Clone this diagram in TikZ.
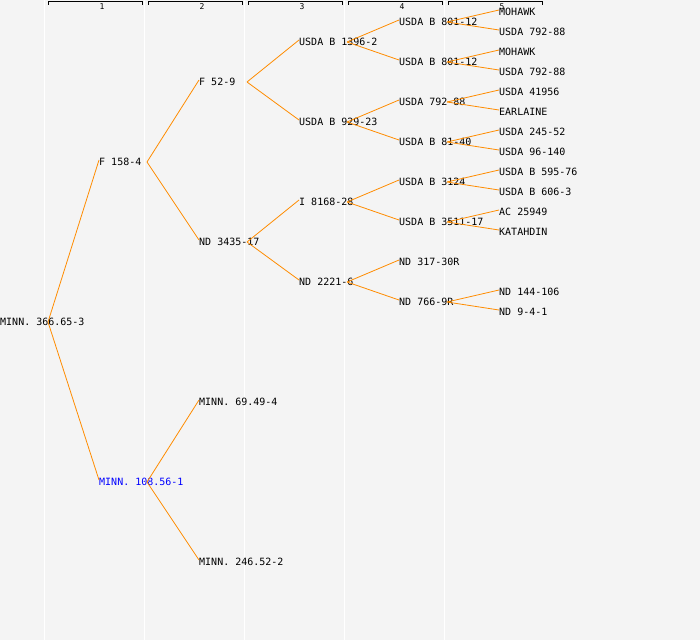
\documentclass[tikz,border=0pt]{standalone}
\usepackage{fontspec}
\setmonofont{DejaVu Sans Mono}
\definecolor{linkorange}{RGB}{255,140,0}
\definecolor{panelgray}{RGB}{244,244,244}

\begin{document}
\begin{tikzpicture}[x=1pt, y=-1pt,
    main/.style = {anchor=west, inner sep=0pt, text height=7.3pt, text depth=0pt, font=\fontsize{10}{12}\selectfont\ttfamily},
    link/.style = {linkorange, line width=0.8pt},
    colnum/.style = {inner sep=0pt, font=\fontsize{8}{9}\selectfont\ttfamily}]
    \useasboundingbox (0,0) rectangle (700,640);
    \fill[panelgray] (0,0) rectangle (700,640);
    \foreach \x in {44.5,144.5,244.5,344.5,444.5}
        \draw[white, line width=1.2pt] (\x,0) -- (\x,640);
    \foreach \x in {48,148,248,348,448}
        \draw[line width=0.8pt] (\x,4.5) -- (\x,1.5) -- (\x+94.5,1.5) -- (\x+94.5,4.5);
    \foreach \k in {1,...,5}
        \node[colnum] (num\k) at (100*\k+2,6.5) {\k};

    % generation 0 and 1
    \node[main] (r) at (0,322) {MINN. 366.65-3};
    \node[main] (f158) at (99,162) {F 158-4};
    \node[main, text=blue] (m108) at (99,482) {MINN. 108.56-1};

    % generation 2
    \node[main] (f52) at (199,82) {F 52-9};
    \node[main] (nd3435) at (199,242) {ND 3435-17};
    \node[main] (m69) at (199,402) {MINN. 69.49-4};
    \node[main] (m246) at (199,562) {MINN. 246.52-2};

    % generation 3
    \node[main] (u1396) at (299,42) {USDA B 1396-2};
    \node[main] (u929) at (299,122) {USDA B 929-23};
    \node[main] (i8168) at (299,202) {I 8168-28};
    \node[main] (nd2221) at (299,282) {ND 2221-6};

    % generation 4
    \node[main] (u801a) at (399,22) {USDA B 801-12};
    \node[main] (u801b) at (399,62) {USDA B 801-12};
    \node[main] (u792) at (399,102) {USDA 792-88};
    \node[main] (u81) at (399,142) {USDA B 81-40};
    \node[main] (u3124) at (399,182) {USDA B 3124};
    \node[main] (u3511) at (399,222) {USDA B 3511-17};
    \node[main] (nd317) at (399,262) {ND 317-30R};
    \node[main] (nd766) at (399,302) {ND 766-9R};

    % generation 5
    \node[main] (mohawka) at (499,12) {MOHAWK};
    \node[main] (u792a) at (499,32) {USDA 792-88};
    \node[main] (mohawkb) at (499,52) {MOHAWK};
    \node[main] (u792b) at (499,72) {USDA 792-88};
    \node[main] (u41956) at (499,92) {USDA 41956};
    \node[main] (earlaine) at (499,112) {EARLAINE};
    \node[main] (u245) at (499,132) {USDA 245-52};
    \node[main] (u96) at (499,152) {USDA 96-140};
    \node[main] (u595) at (499,172) {USDA B 595-76};
    \node[main] (u606) at (499,192) {USDA B 606-3};
    \node[main] (ac) at (499,212) {AC 25949};
    \node[main] (katahdin) at (499,232) {KATAHDIN};
    \node[main] (nd144) at (499,292) {ND 144-106};
    \node[main] (nd941) at (499,312) {ND 9-4-1};

    \foreach \p/\c in {r/f158, r/m108, f158/f52, f158/nd3435, m108/m69, m108/m246,
        f52/u1396, f52/u929, nd3435/i8168, nd3435/nd2221,
        u1396/u801a, u1396/u801b, u929/u792, u929/u81, i8168/u3124, i8168/u3511,
        nd2221/nd317, nd2221/nd766,
        u801a/mohawka, u801a/u792a, u801b/mohawkb, u801b/u792b, u792/u41956, u792/earlaine,
        u81/u245, u81/u96, u3124/u595, u3124/u606, u3511/ac, u3511/katahdin,
        nd766/nd144, nd766/nd941}
        \draw[link] ([xshift=48pt]\p.west) -- ([yshift=2pt]\c.west);
\end{tikzpicture}
\end{document}
